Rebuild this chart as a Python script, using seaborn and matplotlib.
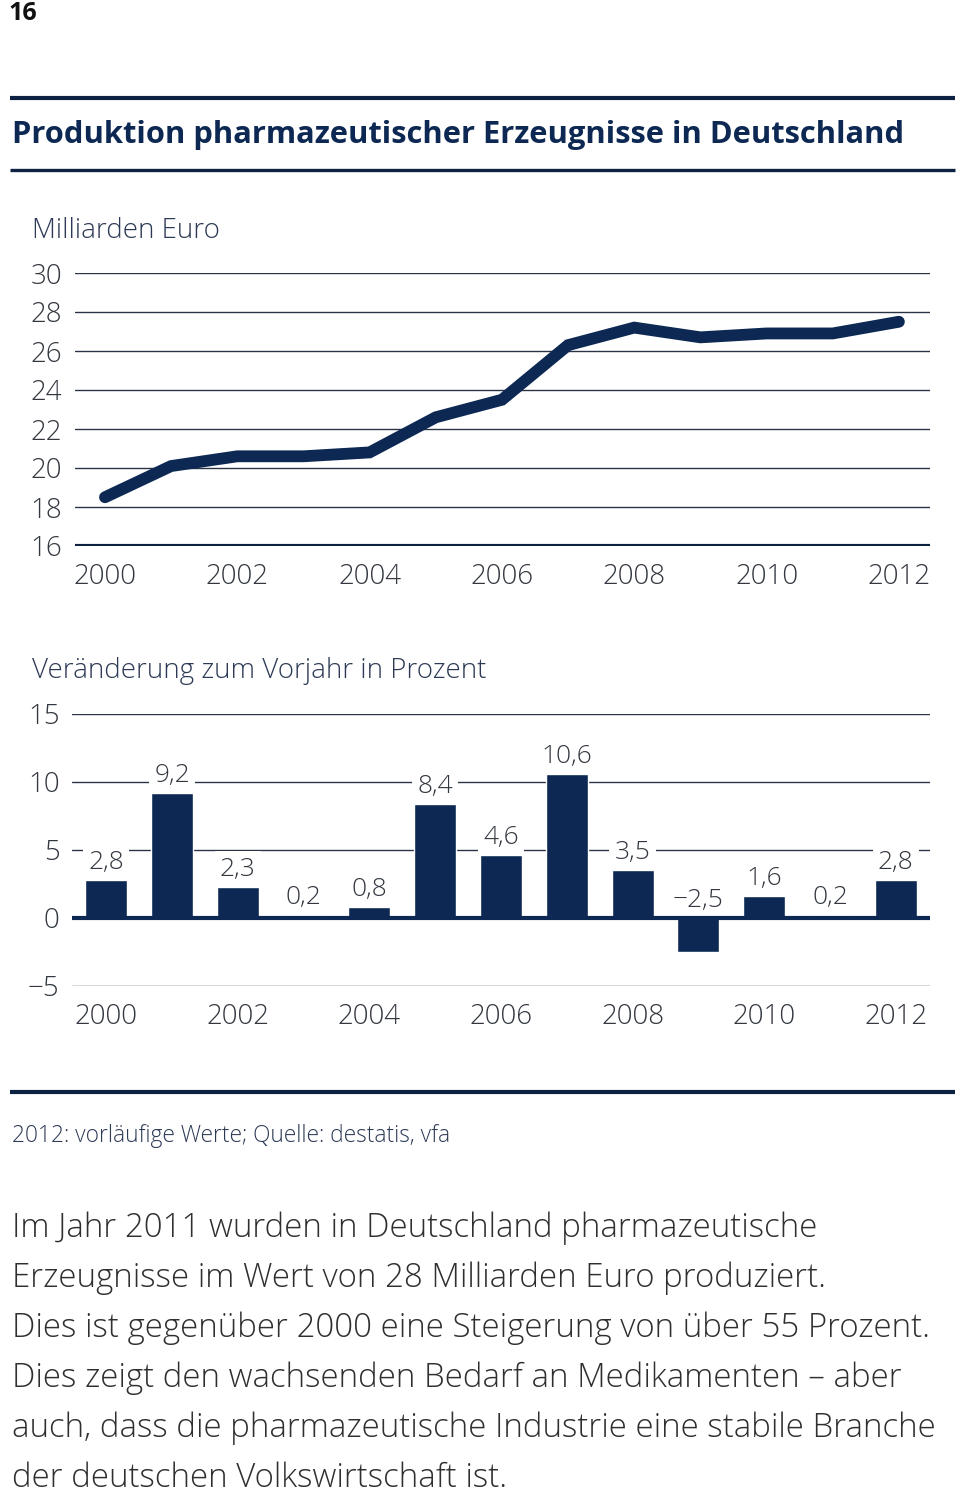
import matplotlib
matplotlib.use("Agg")
import matplotlib.pyplot as plt
from matplotlib.lines import Line2D
import seaborn as sns
import pandas as pd

# ============================================
# DATA
# ============================================
YEARS = list(range(2000, 2013))
PRODUCTION = [18.5, 20.1, 20.6, 20.6, 20.8, 22.6, 23.5, 26.3, 27.2, 26.7, 26.9, 26.9, 27.5]
CHANGE = [2.8, 9.2, 2.3, 0.2, 0.8, 8.4, 4.6, 10.6, 3.5, -2.5, 1.6, 0.2, 2.8]
XTICKS = [2000, 2002, 2004, 2006, 2008, 2010, 2012]
LINE_YTICKS = [16, 18, 20, 22, 24, 26, 28, 30]
BAR_YTICKS = [-5, 0, 5, 10, 15]

PAGE_NO = "16"
TITLE = "Produktion pharmazeutischer Erzeugnisse in Deutschland"
LINE_LABEL = "Milliarden Euro"
BAR_LABEL = "Veränderung zum Vorjahr in Prozent"
NOTE = "2012: vorläufige Werte; Quelle: destatis, vfa"
BODY = [
    "Im Jahr 2011 wurden in Deutschland pharmazeutische",
    "Erzeugnisse im Wert von 28 Milliarden Euro produziert.",
    "Dies ist gegenüber 2000 eine Steigerung von über 55 Prozent.",
    "Dies zeigt den wachsenden Bedarf an Medikamenten – aber",
    "auch, dass die pharmazeutische Industrie eine stabile Branche",
    "der deutschen Volkswirtschaft ist.",
]

# ============================================
# STYLE
# ============================================
NAVY = "#0c2853"
RULE = "#0d2240"
GRID = "#2a3446"
TICK = "#333840"
SUB = "#2d3a55"
BODY_COL = "#2f2f2f"

W, H = 960, 1497
sns.set_style("white")
plt.rcParams["font.family"] = ["Open Sans", "DejaVu Sans"]


def fx(x):
    return x / W


def fy(y):
    return 1 - y / H


def fit_text(fig, x, y, s, width_px, size=20, **kw):
    t = fig.text(fx(x), fy(y), s, fontsize=size, **kw)
    r = fig.canvas.get_renderer()
    w = t.get_window_extent(r).width
    t.set_fontsize(size * width_px / w)
    return t


def hrule(fig, y, lw, x0=10, x1=955):
    fig.add_artist(Line2D([fx(x0), fx(x1)], [fy(y), fy(y)], color=RULE,
                          lw=lw, solid_capstyle="butt"))


def style_axis(ax):
    sns.despine(ax=ax, left=True, bottom=True)
    ax.tick_params(axis="both", length=0, labelsize=20, colors=TICK)
    ax.tick_params(axis="x", pad=12)
    ax.tick_params(axis="y", pad=9)
    for lab in ax.get_xticklabels() + ax.get_yticklabels():
        lab.set_fontweight("light")
    ax.set_xlabel("")
    ax.set_ylabel("")
    ax.set_facecolor("none")


fig = plt.figure(figsize=(W / 100, H / 100), dpi=100)

# header
fig.text(fx(9), fy(13), PAGE_NO, fontsize=18, fontweight="bold", color="#111111",
         ha="left", va="center")
hrule(fig, 98, 3.0)
fit_text(fig, 12, 135, TITLE, 891, fontweight="bold", color=NAVY, ha="left", va="center")
hrule(fig, 170, 2.4)

# ---------- line chart ----------
line_df = pd.DataFrame({"year": YEARS, "value": PRODUCTION})
ax1 = fig.add_axes([fx(75), fy(546), fx(930) - fx(75), fy(273) - fy(546)])
for v in LINE_YTICKS[1:]:
    ax1.axhline(v, color=GRID, lw=1.0, zorder=1)
ax1.axhline(16, color=RULE, lw=3.0, zorder=1)
sns.lineplot(data=line_df, x="year", y="value", ax=ax1, color=NAVY, lw=8.5,
             solid_capstyle="round", solid_joinstyle="miter", zorder=3)
ax1.lines[-1].set_clip_on(False)
ax1.set_xlim(1999.547, 2012.47)
ax1.set_ylim(16, 30)
ax1.set_xticks(XTICKS)
ax1.set_xticklabels([str(y) for y in XTICKS])
ax1.set_yticks(LINE_YTICKS)
ax1.set_yticklabels([str(v) for v in LINE_YTICKS])
style_axis(ax1)
fig.text(fx(32), fy(231), LINE_LABEL, fontsize=20, fontweight="light", color=SUB,
         ha="left", va="center")

# ---------- bar chart ----------
bar_df = pd.DataFrame({"year": YEARS, "change": CHANGE})
ax2 = fig.add_axes([fx(72), fy(986), fx(930) - fx(72), fy(714) - fy(986)])
for v in BAR_YTICKS:
    if v != 0:
        ax2.axhline(v, color=GRID, lw=1.0, zorder=1)
sns.barplot(data=bar_df, x="year", y="change", ax=ax2, color=NAVY, width=0.64,
            native_scale=True, saturation=1, zorder=2)
ax2.axhline(0, color=NAVY, lw=3.0, zorder=4)
for yr, v in zip(YEARS, CHANGE):
    txt = f"{v:.1f}".replace(".", ",").replace("-", "\u2212")
    ax2.annotate(txt, xy=(yr, max(v, 0)), xytext=(0, 8), textcoords="offset points",
                 ha="center", va="baseline", fontsize=19, fontweight="light",
                 color=TICK, zorder=3,
                 bbox=dict(boxstyle="square,pad=0.2", fc="white", ec="none"))
ax2.set_xlim(1999.48, 2012.52)
ax2.set_ylim(-5, 15)
ax2.set_xticks(XTICKS)
ax2.set_xticklabels([str(y) for y in XTICKS])
ax2.set_yticks(BAR_YTICKS)
ax2.set_yticklabels([str(v).replace("-", "\u2212") for v in BAR_YTICKS])
style_axis(ax2)
fig.text(fx(32), fy(671), BAR_LABEL, fontsize=20, fontweight="light", color=SUB,
         ha="left", va="center")

# footer
hrule(fig, 1092, 3.0)
fit_text(fig, 12, 1136, NOTE, 440, fontweight="light", color=SUB, ha="left", va="center")

# body text, size fitted on the longest line
t = fit_text(fig, 12, 1428, BODY[4], 923, fontweight="light", color=BODY_COL,
             ha="left", va="center")
body_size = t.get_fontsize()
t.remove()
for i, line in enumerate(BODY):
    fig.text(fx(12), fy(1228 + 50 * i), line, fontsize=body_size, fontweight="light",
             color=BODY_COL, ha="left", va="center")

fig.savefig("out.png", dpi=100)
